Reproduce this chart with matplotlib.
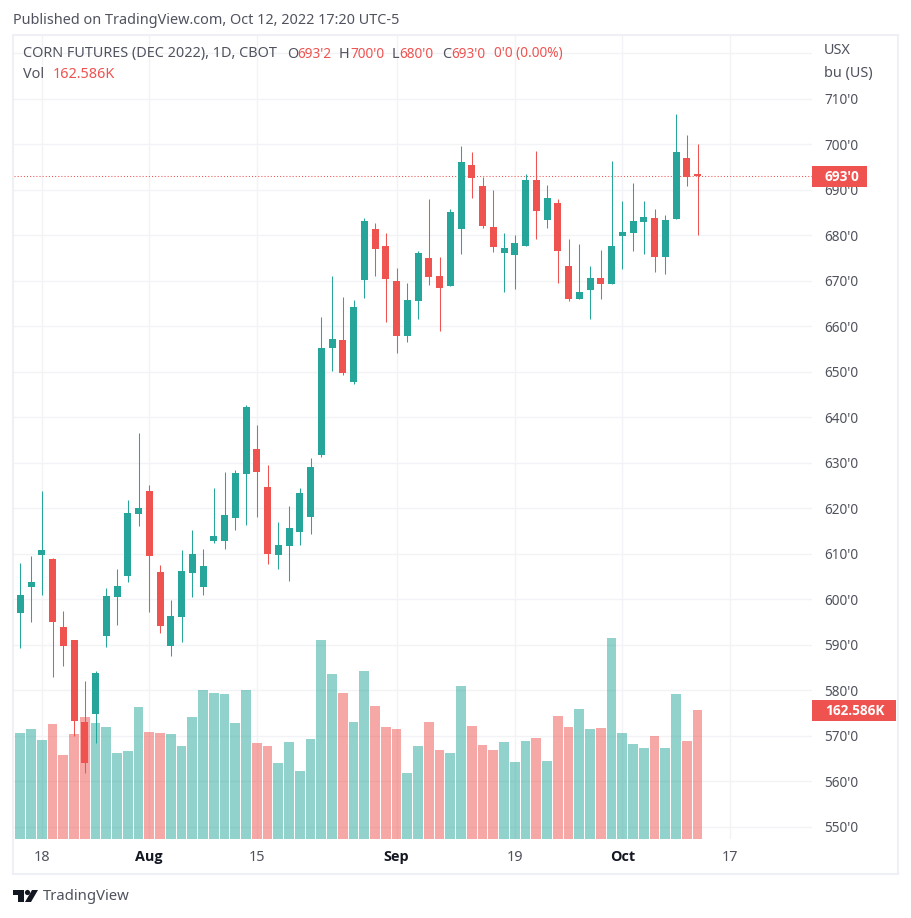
import matplotlib
matplotlib.use('Agg')
import matplotlib.pyplot as plt
from matplotlib.patches import Rectangle, Polygon, Circle
import numpy as np

plt.rcParams['font.family'] = ['Noto Sans', 'DejaVu Sans']

GREEN = '#26a69a'
RED = '#ef5350'
GRID = '#f2f3f6'
TEXT = '#50535e'
DARK = '#131722'
BOLD = ['Open Sans', 'DejaVu Sans']
FS = 10.4
FS_NUM = 9.8

# open, high, low, close per session, 14 Jul - 12 Oct 2022
opens = [597, 602.7, 609.7, 608.9, 593.9, 591, 573, 574.8, 592, 600.5,
         605.1, 618.8, 623.8, 606, 589.7, 596.1, 605.8, 602.7, 612.8, 612.8,
         617.9, 627.5, 633, 624.7, 609.7, 611.7, 614.8, 618.1, 631.7, 655.2,
         657, 647.8, 670.2, 681.4, 677.7, 670, 657.9, 665.6, 675, 671.1,
         668.9, 681.4, 695.5, 690.8, 681.8, 676.1, 675.7, 677.7, 692.2, 683.4,
         687.1, 673.3, 666, 668, 670.6, 669.3, 679.9, 680.5, 682.9, 683.8,
         675.2, 683.6, 697, 693.25]
highs = [608, 609.5, 623.8, 609, 597.4, 591, 582, 584.3, 602.5, 606.7,
         621.8, 636.6, 625.1, 607.5, 599.9, 610.8, 615.2, 611, 624.5, 628,
         628.4, 642.7, 638.3, 629.5, 617, 620.5, 624.5, 631.1, 662.1, 671.1,
         666.4, 665.8, 683.8, 682.7, 680.5, 672.8, 669.5, 676.6, 688, 675.2,
         685.8, 699.6, 698.3, 692.8, 690, 680.5, 680.1, 693.5, 698.5, 691.1,
         688, 679.2, 678.1, 673.3, 676.8, 696.3, 687.5, 691.5, 687.5, 685.8,
         684.5, 706.7, 702, 700]
lows = [589.3, 595, 601, 582.9, 585.3, 570, 561.8, 568.4, 589.5, 594.4,
        603.8, 616.1, 597.2, 592.6, 587.5, 590.6, 600.5, 601, 612.4, 611,
        615.2, 616.3, 618.1, 607.8, 606.7, 604, 611.9, 614.4, 631.3, 650.2,
        649.3, 647.3, 666.2, 671.1, 661, 654.1, 656.6, 661.6, 669.1, 659,
        668.9, 675.9, 688.2, 681.6, 676.3, 667.5, 668.2, 677.7, 679.2, 681.6,
        669.5, 665.6, 666, 661.6, 666, 669.3, 672.6, 676.6, 675.9, 671.9,
        671.5, 683.6, 690.8, 680]
closes = [601, 603.8, 610.8, 595, 589.7, 573.3, 564, 583.8, 600.7, 602.9,
          619, 620.1, 609.5, 594.1, 596.3, 606.2, 610, 607.3, 613.9, 618.5,
          627.8, 642.3, 628, 610, 611.9, 615.7, 623.4, 629.1, 655.2, 657.2,
          649.7, 664.2, 683.2, 677, 670.4, 657.9, 665.8, 676.1, 670.8, 668.4,
          685.1, 696.1, 692.6, 682.1, 677.4, 677.2, 678.3, 692.2, 685.3, 688.2,
          676.6, 666, 667.5, 670.6, 669.3, 677.7, 680.7, 683.2, 684, 675.2,
          683.4, 698.3, 692.8, 693]

# volume in thousands, first value is the session cut off at the left edge
volumes = [157.5, 133.6, 138.6, 124.8, 144.9, 105.9, 132.3, 153.8, 146.2, 141.2,
           108.4, 110.9, 166.4, 134.9, 133.6, 132.3, 117.2, 153.8, 187.8, 184.0,
           182.8, 146.2, 187.8, 121.0, 117.2, 95.8, 122.3, 85.7, 126.0, 250.8,
           208.0, 184.0, 147.5, 211.7, 167.6, 141.2, 138.6, 83.2, 117.2, 147.5,
           112.2, 108.4, 192.8, 142.4, 118.5, 112.2, 122.3, 97.0, 123.5, 127.3,
           98.3, 155.0, 141.2, 163.8, 138.6, 139.9, 253.3, 133.6, 119.7, 114.7,
           129.8, 114.7, 182.8, 123.5, 162.586]

grid_prices = list(range(550, 730, 10))
price_labels = [str(p) + "'0" for p in grid_prices[:-1]] + ['']
date_ticks = [2, 12, 22, 35, 46, 56, 66]
date_labels = ['18', 'Aug', '15', 'Sep', '19', 'Oct', '17']

W, H = 912, 918
L, R, T, B = 14, 812, 36, 839
fig = plt.figure(figsize=(W / 100, H / 100), dpi=100, facecolor='white')
rect = [L / W, 1 - B / H, (R - L) / W, (B - T) / H]

# three layers over the same pane: grid, volume, candles
ax_grid = fig.add_axes(rect, zorder=1)
ax_vol = fig.add_axes(rect, zorder=2)
ax = fig.add_axes(rect, zorder=3)
ax_vol.patch.set_visible(False)
ax.patch.set_visible(False)

# scales: 10.75 px per session, 4.55 px per cent, 1.26K per px
x0, step = 20.3, 10.75
xlim = ((L - x0) / step, (R - x0) / step)
ylim = (700 - (B - 144.3) / 4.55, 700 + (144.3 - T) / 4.55)
for a in (ax, ax_vol, ax_grid):
    a.set_xlim(xlim)
    for s in a.spines.values():
        s.set_visible(False)
ax.set_ylim(ylim)
ax_grid.set_ylim(ylim)
ax_vol.set_ylim(0, (B - T) * 1.2603)

ax_vol.set_xticks([])
ax_vol.set_yticks([])
ax_grid.set_xticks(date_ticks)
ax_grid.set_yticks(grid_prices)
ax_grid.tick_params(length=0, labelbottom=False, labelleft=False)
ax_grid.grid(True, color=GRID, lw=1.0)

idx = np.arange(len(opens))
up = np.array(closes) >= np.array(opens)
colors = [GREEN if u else RED for u in up]

vol_idx = np.arange(-1, len(opens))
vol_colors = [GREEN] + colors
ax_vol.bar(vol_idx, volumes, width=0.9, color=vol_colors, alpha=0.5, linewidth=0)

ax.vlines(idx, lows, highs, colors=colors, lw=0.75, zorder=3)
heights = np.maximum(np.abs(np.array(closes) - np.array(opens)), 0.4)
ax.bar(idx, heights, bottom=np.minimum(opens, closes), width=0.65, color=colors, linewidth=0, zorder=4)
ax.axhline(closes[-1], color=RED, lw=0.75, ls=(0, (1, 2)), zorder=2.5)

ax.yaxis.tick_right()
ax.set_yticks(grid_prices)
ax.set_yticklabels(price_labels, fontsize=FS_NUM, color=TEXT)
ax.tick_params(axis='y', length=0, pad=9)
ax.set_xticks(date_ticks)
ax.set_xticklabels(date_labels, fontsize=FS, color=TEXT)
for lab in ax.get_xticklabels():
    if lab.get_text() in ('Aug', 'Sep', 'Oct'):
        lab.set_family(BOLD)
        lab.set_fontweight('bold')
        lab.set_color(DARK)
ax.tick_params(axis='x', length=0, pad=8)

# overlay in pixel coordinates for the frame, header and badges
ov = fig.add_axes([0, 0, 1, 1], zorder=5)
ov.set_xlim(0, W)
ov.set_ylim(H, 0)
ov.axis('off')
ov.patch.set_visible(False)
ov.add_patch(Rectangle((13, 35), 885.5, 838.5, fill=False, ec='#eff0f6', lw=1.5))

ov.text(13, 20, 'Published on TradingView.com, Oct 12, 2022 17:20 UTC-5', fontsize=FS, color=TEXT, va='center')

ov.text(23, 54, 'CORN FUTURES (DEC 2022), 1D, CBOT', fontsize=FS, color=TEXT, va='center')
for xp, letter in [(287, 'O'), (339, 'H'), (392, 'L'), (442, 'C')]:
    ov.text(xp, 54, letter, fontsize=FS, color=TEXT, va='center')
for xp, val in [(297, "693'2"), (350, "700'0"), (399, "680'0"), (451, "693'0"), (494, "0'0 (0.00%)")]:
    ov.text(xp, 54, val, fontsize=FS_NUM, color=RED, va='center')
ov.text(23, 75, 'Vol', fontsize=FS, color=TEXT, va='center')
ov.text(53, 75, '162.586K', fontsize=FS, color=RED, va='center')

ov.text(824, 51, 'USX', fontsize=FS, color=TEXT, va='center')
ov.text(824, 74, 'bu (US)', fontsize=FS, color=TEXT, va='center')

ov.add_patch(Rectangle((812, 166), 55, 21, color=RED, lw=0))
ov.text(825, 177, "693'0", fontsize=FS_NUM, color='white', family=BOLD, fontweight='bold', va='center')
ov.add_patch(Rectangle((812, 700), 84, 21, color=RED, lw=0))
ov.text(825, 711, '162.586K', fontsize=FS_NUM, color='white', family=BOLD, fontweight='bold', va='center')

# logo
ov.add_patch(Polygon([(13, 890), (24, 890), (24, 902), (18, 902), (18, 895), (13, 895)], color=DARK, lw=0))
ov.add_patch(Circle((27.5, 892.5), 2.6, color=DARK, lw=0))
ov.add_patch(Polygon([(32, 890), (38, 890), (31, 902), (25, 902)], color=DARK, lw=0))
ov.text(43, 897, 'TradingView', fontsize=10.7, color=TEXT, va='center')

fig.savefig('out.png', dpi=100)
